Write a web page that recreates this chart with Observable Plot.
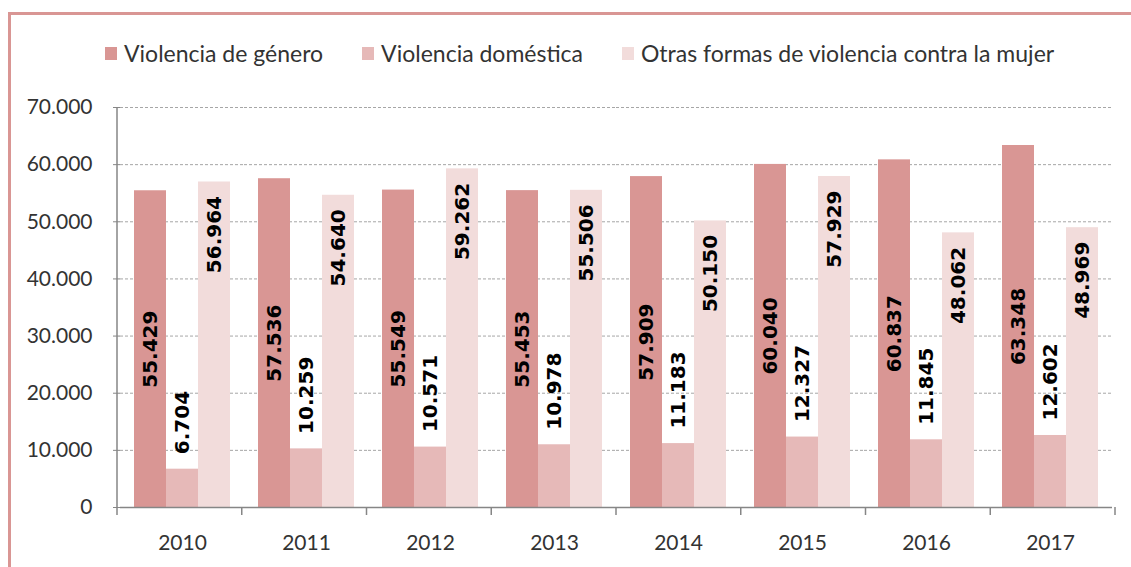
<!DOCTYPE html>
<html><head><meta charset="utf-8">
<script src="https://cdn.jsdelivr.net/npm/d3@7"></script>
<script src="https://cdn.jsdelivr.net/npm/@observablehq/plot@0.6"></script>
<style>
body{margin:0;background:#fff;width:1131px;height:567px;overflow:hidden;position:relative;font-family:Lato,sans-serif}
#frame{position:absolute;left:8px;top:12px;width:1200px;height:600px;border-top:3px solid #D99694;border-left:3px solid #D99694}
#legend{position:absolute;left:105px;top:39px;display:flex;align-items:center;font-size:23px;color:#333;white-space:nowrap;line-height:28px}
.item{display:flex;align-items:center;margin-right:39px}
.sw{width:12px;height:13px;margin-right:7px}
#chart{position:absolute;left:0;top:80px}
</style></head><body>
<div id="frame"></div>
<div id="legend"></div>
<div id="chart"></div>
<script>
const years = ["2010","2011","2012","2013","2014","2015","2016","2017"];
const series = ["Violencia de género","Violencia doméstica","Otras formas de violencia contra la mujer"];
const genero = [55429,57536,55549,55453,57909,60040,60837,63348];
const domestica = [6704,10259,10571,10978,11183,12327,11845,12602];
const otras = [56964,54640,59262,55506,50150,57929,48062,48969];
const yTicks = [0,10000,20000,30000,40000,50000,60000,70000];
const colors = ["#D99694","#E6B9B8","#F2DCDB"];

const fmt = d3.formatLocale({thousands:".",grouping:[3],decimal:",",currency:["",""]}).format(",d");

const rows = [];
years.forEach((y,i)=>{
  rows.push({year:y, series:series[0], value:genero[i]});
  rows.push({year:y, series:series[1], value:domestica[i]});
  rows.push({year:y, series:series[2], value:otras[i]});
});

// legend
const leg = d3.select("#legend");
series.forEach((s,i)=>{
  const it = leg.append("div").attr("class","item");
  it.append("div").attr("class","sw").style("background",colors[i]);
  it.append("span").text(s);
});

const lab = {fx:"year", x:"series", text:d=>fmt(d.value), rotate:-90, fill:"#000",
  fontFamily:"DejaVu Sans, sans-serif", fontWeight:"bold", fontSize:20};

const plot = Plot.plot({
  width:1131, height:487, marginTop:27, marginBottom:60, marginLeft:117, marginRight:16,
  style:{fontFamily:"Lato, sans-serif", fontSize:"21px", color:"#333", background:"transparent", overflow:"visible"},
  fx:{domain:years, padding:0, label:null, axis:"bottom", tickSize:0, tickPadding:28},
  x:{domain:series, paddingInner:0, paddingOuter:0.39, axis:null},
  y:{domain:[0,70000], axis:null},
  color:{domain:series, range:colors},
  marks:[
    Plot.ruleY(yTicks.slice(1), {stroke:"#a6a6a6", strokeDasharray:"3,2"}),
    Plot.axisY(yTicks, {tickFormat:fmt, tickSize:7, tickPadding:21, stroke:"#868686", label:null, fontSize:21}),
    Plot.barY(rows, {fx:"year", x:"series", y:"value", fill:"series"}),
    Plot.ruleY([0], {stroke:"#868686", strokeWidth:1.5}),
    Plot.text(rows.filter(d=>d.series===series[0]), {...lab, y:d=>d.value/2, textAnchor:"middle"}),
    Plot.text(rows.filter(d=>d.series===series[1]), {...lab, y:"value", textAnchor:"start", dy:-15}),
    Plot.text(rows.filter(d=>d.series===series[2]), {...lab, y:"value", textAnchor:"end", dy:14})
  ]
});
document.getElementById("chart").appendChild(plot);

// axis line and category boundary ticks derived from the scales
const fxS = plot.scale("fx"), yS = plot.scale("y");
const x0 = fxS.range[0], x1 = fxS.range[1];
const step = (x1 - x0) / fxS.domain.length;
const yTop = yS.range[1], yBot = yS.range[0];
const svg = d3.select(plot);
const g = svg.append("g").attr("stroke","#868686").attr("stroke-width",1.5);
g.append("line").attr("x1",x0).attr("x2",x0).attr("y1",yTop).attr("y2",yBot+8);
for (let i = 1; i <= fxS.domain.length; i++) {
  const x = x0 + i*step;
  g.append("line").attr("x1",x).attr("x2",x).attr("y1",yBot).attr("y2",yBot+8);
}
</script>
</body></html>
